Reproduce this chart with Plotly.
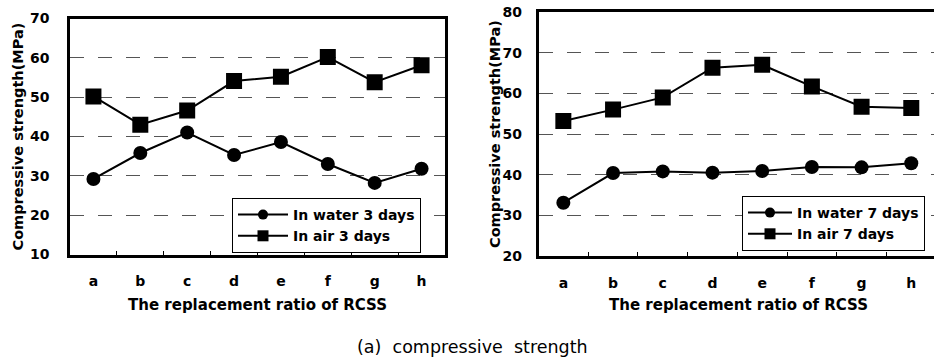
import plotly.graph_objects as go

categories = ["a", "b", "c", "d", "e", "f", "g", "h"]

water_3d = [29.2, 35.8, 41.0, 35.3, 38.6, 33.0, 28.2, 31.8]
air_3d = [50.2, 43.0, 46.6, 54.1, 55.2, 60.2, 53.8, 58.1]

water_7d = [33.1, 40.4, 40.8, 40.5, 40.9, 41.9, 41.8, 42.8]
air_7d = [53.2, 56.0, 59.0, 66.3, 67.0, 61.7, 56.7, 56.4]

left_yticks = [10, 20, 30, 40, 50, 60, 70]
right_yticks = [20, 30, 40, 50, 60, 70, 80]

W, H = 934, 357
BOLD = dict(family="DejaVu Sans", color="black", weight="bold")

fig = go.Figure()

def add_pair(water, air, xa, ya, leg, wname, aname):
    # data traces (legend entries drawn by small-marker proxies below)
    fig.add_trace(go.Scatter(
        x=categories, y=water, name=wname, xaxis=xa, yaxis=ya, showlegend=False,
        mode="lines+markers", line=dict(color="black", width=2),
        marker=dict(symbol="circle", size=14, color="black")))
    fig.add_trace(go.Scatter(
        x=categories, y=air, name=aname, xaxis=xa, yaxis=ya, showlegend=False,
        mode="lines+markers", line=dict(color="black", width=2),
        marker=dict(symbol="square", size=16, color="black")))
    # legend proxies (no visible data)
    fig.add_trace(go.Scatter(
        x=[None], y=[None], name=wname, xaxis=xa, yaxis=ya, legend=leg,
        mode="lines+markers", line=dict(color="black", width=2),
        marker=dict(symbol="circle", size=10, color="black")))
    fig.add_trace(go.Scatter(
        x=[None], y=[None], name=aname, xaxis=xa, yaxis=ya, legend=leg,
        mode="lines+markers", line=dict(color="black", width=2),
        marker=dict(symbol="square", size=11, color="black")))

add_pair(water_3d, air_3d, "x", "y", "legend", "In water 3 days", "In air 3 days")
add_pair(water_7d, air_7d, "x2", "y2", "legend2", "In water 7 days", "In air 7 days")

xcommon = dict(type="category", categoryorder="array", categoryarray=categories,
               showline=True, linecolor="black", linewidth=2.5, mirror=True,
               ticks="inside", tickson="boundaries", ticklen=4, tickcolor="black",
               showgrid=False, zeroline=False, tickfont=dict(size=14, **BOLD),
               ticklabelstandoff=12, automargin=False)
ycommon = dict(showline=True, linecolor="black", linewidth=2.5, dtick=10,
               showgrid=True, gridcolor="#555555", gridwidth=1, griddash="14px,14px",
               zeroline=False, ticks="", tickfont=dict(size=14, **BOLD), automargin=False)

def px_x(v):
    return v / W

def px_y(v):
    return 1 - v / H

legend_common = dict(xanchor="left", yanchor="top", bgcolor="white",
                     bordercolor="black", borderwidth=1,
                     font=dict(size=14, **BOLD), tracegroupgap=0)

fig.update_layout(
    width=W, height=H, autosize=False,
    margin=dict(l=0, r=0, t=0, b=0, pad=0),
    paper_bgcolor="white", plot_bgcolor="white",
    xaxis=dict(domain=[px_x(70), px_x(445)], range=[-0.5, 7.5], anchor="y", **xcommon),
    yaxis=dict(domain=[px_y(254.5), px_y(18.5)], range=[10, 70], anchor="x",
               tickvals=left_yticks, mirror=True, ticklabelstandoff=15, **ycommon),
    xaxis2=dict(domain=[px_x(538.5), 1.0], range=[-0.5, 7.457], anchor="y2", **xcommon),
    yaxis2=dict(domain=[px_y(256), px_y(12)], range=[20, 80], anchor="x2",
                tickvals=right_yticks, mirror=False, ticklabelstandoff=11, **ycommon),
    legend=dict(x=px_x(232), y=px_y(198), itemwidth=50, **legend_common),
    legend2=dict(x=px_x(742), y=px_y(196), itemwidth=44, **legend_common),
    showlegend=True,
)

annotations = [
    dict(text="Compressive strength(MPa)", x=px_x(17), y=px_y(136.5), textangle=-90,
         font=dict(size=14.5, **BOLD)),
    dict(text="Compressive strength(MPa)", x=px_x(495), y=px_y(134), textangle=-90,
         font=dict(size=14.5, **BOLD)),
    dict(text="The replacement ratio of RCSS", x=px_x(257.5), y=px_y(305),
         font=dict(size=15, **BOLD)),
    dict(text="The replacement ratio of RCSS", x=px_x(738), y=px_y(305),
         font=dict(size=15, **BOLD)),
    dict(text="(a)\u00a0 compressive\u00a0 strength", x=px_x(472), y=px_y(347),
         font=dict(size=17.5, family="DejaVu Sans", color="black")),
]
for a in annotations:
    fig.add_annotation(xref="paper", yref="paper", xanchor="center", yanchor="middle",
                       showarrow=False, **a)

fig.write_html("out.html",
               config={"displayModeBar": False},
               post_script="document.documentElement.style.margin='0';"
                           "document.body.style.margin='0';"
                           "document.body.style.overflow='hidden';")
